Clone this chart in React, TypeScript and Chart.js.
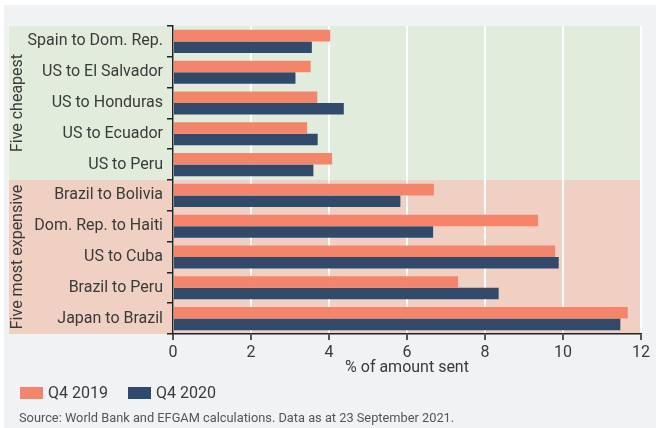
import React, { useEffect, useRef } from 'react';
import { Chart, registerables } from 'chart.js';

Chart.register(...registerables);

const categories = [
  'Spain to Dom. Rep.',
  'US to El Salvador',
  'US to Honduras',
  'US to Ecuador',
  'US to Peru',
  'Brazil to Bolivia',
  'Dom. Rep. to Haiti',
  'US to Cuba',
  'Brazil to Peru',
  'Japan to Brazil',
];
const q42019 = [4.03, 3.53, 3.7, 3.44, 4.08, 6.69, 9.36, 9.8, 7.31, 11.66];
const q42020 = [3.56, 3.14, 4.38, 3.71, 3.6, 5.83, 6.67, 9.89, 8.35, 11.47];
const seriesLabels = ['Q4 2019', 'Q4 2020'];
const seriesColors = ['#f5856a', '#304a6c'];
const groupLabels = ['Five cheapest', 'Five most expensive'];
const groupSizes = [5, 5];
const groupColors = ['#e2ecdd', '#efd0c3'];
const xMin = 0;
const xMax = 12;
const xStep = 2;
const xTitle = '% of amount sent';
const sourceNote = 'Source: World Bank and EFGAM calculations. Data as at 23 September 2021.';

const FONT = 'Roboto, "Noto Sans", sans-serif';
const TEXT = '#3a3a3a';
const AXIS = '#222222';

const decorPlugin = {
  id: 'decor',
  beforeDraw(chart: any) {
    const { ctx, chartArea } = chart;
    ctx.save();
    ctx.fillStyle = '#ffffff';
    ctx.fillRect(0, 0, chart.width, chart.height);
    ctx.fillStyle = '#f1f2f4';
    ctx.fillRect(4, 5, 652, chart.height - 5);
    const n = categories.length;
    const h = chartArea.bottom - chartArea.top;
    let start = 0;
    groupSizes.forEach((size, g) => {
      const top = chartArea.top + (start / n) * h;
      const bottom = chartArea.top + ((start + size) / n) * h;
      ctx.fillStyle = groupColors[g];
      ctx.fillRect(9, top, chartArea.right - 9, bottom - top);
      start += size;
    });
    ctx.restore();
  },
  afterDraw(chart: any) {
    const { ctx, chartArea } = chart;
    const n = categories.length;
    const h = chartArea.bottom - chartArea.top;
    ctx.save();
    // group labels
    ctx.fillStyle = TEXT;
    ctx.font = `16px ${FONT}`;
    ctx.textAlign = 'center';
    ctx.textBaseline = 'middle';
    let start = 0;
    groupSizes.forEach((size, g) => {
      const cy = chartArea.top + ((start + size / 2) / n) * h;
      ctx.save();
      ctx.translate(18, cy);
      ctx.rotate(-Math.PI / 2);
      ctx.fillText(groupLabels[g], 0, 0);
      ctx.restore();
      start += size;
    });
    // legend
    const ds = chart.data.datasets;
    const legendX = [20, 128];
    ctx.textAlign = 'left';
    ds.forEach((d: any, i: number) => {
      ctx.fillStyle = d.backgroundColor;
      ctx.fillRect(legendX[i], 387, 23, 12);
      ctx.fillStyle = TEXT;
      ctx.font = `16px ${FONT}`;
      ctx.fillText(d.label, legendX[i] + 28, 393.5);
    });
    // source
    ctx.fillStyle = '#555555';
    ctx.font = `12.8px ${FONT}`;
    ctx.fillText(sourceNote, 19, 419);
    ctx.restore();
  },
};

export default function App() {
  const ref = useRef<HTMLCanvasElement>(null);
  useEffect(() => {
    if (!ref.current) return;
    const chart = new Chart(ref.current, {
      type: 'bar',
      data: {
        labels: categories,
        datasets: [
          { label: seriesLabels[0], data: q42019, backgroundColor: seriesColors[0], borderWidth: 0, categoryPercentage: 0.75, barPercentage: 1 },
          { label: seriesLabels[1], data: q42020, backgroundColor: seriesColors[1], borderWidth: 0, categoryPercentage: 0.75, barPercentage: 1 },
        ],
      },
      options: {
        indexAxis: 'y',
        responsive: false,
        animation: false,
        layout: { padding: { top: 26, right: 20, bottom: 50, left: 0 } },
        plugins: { legend: { display: false }, tooltip: { enabled: false } },
        scales: {
          x: {
            min: xMin,
            max: xMax,
            afterFit(scale: any) { scale.height = 44; },
            ticks: { stepSize: xStep, color: TEXT, font: { family: FONT, size: 16 }, padding: 3 },
            grid: { color: '#ffffff', lineWidth: 2, tickColor: AXIS, tickWidth: 1.5, tickLength: 6 },
            border: { display: true, color: AXIS, width: 1.5 },
            title: { display: true, text: xTitle, color: TEXT, font: { family: FONT, size: 16, lineHeight: 1.2 }, padding: 0 },
          },
          y: {
            afterFit(scale: any) { scale.width = 173; },
            ticks: { color: TEXT, font: { family: FONT, size: 16 }, padding: 4 },
            grid: { drawOnChartArea: false, color: AXIS, lineWidth: 1.5, tickLength: 6 },
            border: { display: true, color: AXIS, width: 1.5 },
          },
        },
      },
      plugins: [decorPlugin],
    });
    return () => chart.destroy();
  }, []);
  return (
    <div style={{ position: 'absolute', left: 0, top: 0, width: 661, height: 428 }}>
      <canvas ref={ref} width={661} height={428} />
    </div>
  );
}
